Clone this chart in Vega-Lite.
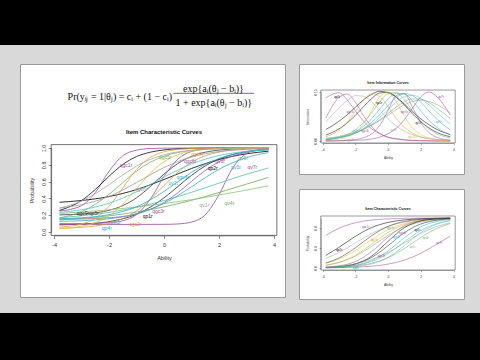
{
"$schema": "https://vega.github.io/schema/vega-lite/v6.json",
"padding": 0,
"background": "#d9d9d9",
"spacing": 0,
"config": {
  "font": "Liberation Sans",
  "view": {"stroke": null},
  "axis": {"grid": false, "domainColor": "#444", "domainWidth": 0.6, "tickColor": "#444", "tickWidth": 0.6, "labelColor": "#333", "titleColor": "#333", "titleFontWeight": "normal", "labelFont": "Liberation Sans", "titleFont": "Liberation Sans", "labelFlush": false, "labelOverlap": false, "labelBound": false}
},
"datasets": {
"icc": [
{"item":"qgc1r","x":-3.8,"p":0.249},{"item":"qgc1r","x":-3,"p":0.313},{"item":"qgc1r","x":-2.5,"p":0.469},{"item":"qgc1r","x":-2,"p":0.723},{"item":"qgc1r","x":-1.5,"p":0.907},{"item":"qgc1r","x":-1,"p":0.974},{"item":"qgc1r","x":-0.5,"p":0.994},{"item":"qgc1r","x":0,"p":0.998},{"item":"qgc1r","x":1,"p":1},{"item":"qgc1r","x":2,"p":1},{"item":"qgc1r","x":3,"p":1},{"item":"qgc1r","x":3.8,"p":1},
{"item":"qp1r","x":-3.8,"p":0.257},{"item":"qp1r","x":-3,"p":0.374},{"item":"qp1r","x":-2.5,"p":0.506},{"item":"qp1r","x":-2,"p":0.663},{"item":"qp1r","x":-1.5,"p":0.803},{"item":"qp1r","x":-1,"p":0.898},{"item":"qp1r","x":-0.5,"p":0.95},{"item":"qp1r","x":0,"p":0.977},{"item":"qp1r","x":0.5,"p":0.99},{"item":"qp1r","x":1,"p":0.995},{"item":"qp1r","x":2,"p":0.999},{"item":"qp1r","x":3,"p":1},{"item":"qp1r","x":3.8,"p":1},
{"item":"qp2r","x":-3.8,"p":0.354},{"item":"qp2r","x":-3,"p":0.375},{"item":"qp2r","x":-2,"p":0.422},{"item":"qp2r","x":-1,"p":0.505},{"item":"qp2r","x":0,"p":0.625},{"item":"qp2r","x":1,"p":0.756},{"item":"qp2r","x":2,"p":0.863},{"item":"qp2r","x":3,"p":0.931},{"item":"qp2r","x":3.8,"p":0.962},
{"item":"qgc9r","x":-3.8,"p":0.085},{"item":"qgc9r","x":-3,"p":0.094},{"item":"qgc9r","x":-2,"p":0.123},{"item":"qgc9r","x":-1,"p":0.211},{"item":"qgc9r","x":0,"p":0.406},{"item":"qgc9r","x":0.5,"p":0.54},{"item":"qgc9r","x":1,"p":0.674},{"item":"qgc9r","x":1.5,"p":0.787},{"item":"qgc9r","x":2,"p":0.869},{"item":"qgc9r","x":3,"p":0.957},{"item":"qgc9r","x":3.8,"p":0.983},
{"item":"qp5r","x":-3.8,"p":0.204},{"item":"qp5r","x":-3,"p":0.214},{"item":"qp5r","x":-2,"p":0.258},{"item":"qp5r","x":-1.5,"p":0.314},{"item":"qp5r","x":-1,"p":0.407},{"item":"qp5r","x":-0.5,"p":0.541},{"item":"qp5r","x":0,"p":0.689},{"item":"qp5r","x":0.5,"p":0.815},{"item":"qp5r","x":1,"p":0.9},{"item":"qp5r","x":2,"p":0.975},{"item":"qp5r","x":3,"p":0.994},{"item":"qp5r","x":3.8,"p":0.998},
{"item":"qgc6r","x":-3.8,"p":0.1},{"item":"qgc6r","x":-3,"p":0.1},{"item":"qgc6r","x":-2,"p":0.11},{"item":"qgc6r","x":-1.5,"p":0.134},{"item":"qgc6r","x":-1,"p":0.207},{"item":"qgc6r","x":-0.5,"p":0.389},{"item":"qgc6r","x":0,"p":0.66},{"item":"qgc6r","x":0.5,"p":0.867},{"item":"qgc6r","x":1,"p":0.958},{"item":"qgc6r","x":1.5,"p":0.987},{"item":"qgc6r","x":2,"p":0.997},{"item":"qgc6r","x":3,"p":1},{"item":"qgc6r","x":3.8,"p":1},
{"item":"qv7r","x":-3.8,"p":0.09},{"item":"qv7r","x":-2,"p":0.09},{"item":"qv7r","x":0,"p":0.091},{"item":"qv7r","x":0.5,"p":0.096},{"item":"qv7r","x":1,"p":0.118},{"item":"qv7r","x":1.5,"p":0.204},{"item":"qv7r","x":2,"p":0.444},{"item":"qv7r","x":2.5,"p":0.764},{"item":"qv7r","x":3,"p":0.934},{"item":"qv7r","x":3.5,"p":0.984},{"item":"qv7r","x":3.8,"p":0.994},
{"item":"qv3r","x":-3.8,"p":0.152},{"item":"qv3r","x":-3,"p":0.155},{"item":"qv3r","x":-2,"p":0.169},{"item":"qv3r","x":-1,"p":0.216},{"item":"qv3r","x":0,"p":0.351},{"item":"qv3r","x":0.5,"p":0.467},{"item":"qv3r","x":1,"p":0.602},{"item":"qv3r","x":1.5,"p":0.733},{"item":"qv3r","x":2,"p":0.836},{"item":"qv3r","x":3,"p":0.948},{"item":"qv3r","x":3.8,"p":0.981},
{"item":"qgc5r","x":-3.8,"p":0.168},{"item":"qgc5r","x":-3,"p":0.242},{"item":"qgc5r","x":-2.5,"p":0.329},{"item":"qgc5r","x":-2,"p":0.448},{"item":"qgc5r","x":-1.5,"p":0.588},{"item":"qgc5r","x":-1,"p":0.724},{"item":"qgc5r","x":-0.5,"p":0.83},{"item":"qgc5r","x":0,"p":0.902},{"item":"qgc5r","x":1,"p":0.971},{"item":"qgc5r","x":2,"p":0.992},{"item":"qgc5r","x":3,"p":0.998},{"item":"qgc5r","x":3.8,"p":0.999},
{"item":"qv4r","x":-3.8,"p":0.144},{"item":"qv4r","x":-3,"p":0.162},{"item":"qv4r","x":-2,"p":0.193},{"item":"qv4r","x":-1,"p":0.238},{"item":"qv4r","x":0,"p":0.299},{"item":"qv4r","x":1,"p":0.377},{"item":"qv4r","x":2,"p":0.47},{"item":"qv4r","x":3,"p":0.57},{"item":"qv4r","x":3.8,"p":0.65},
{"item":"qv8r","x":-3.8,"p":0.221},{"item":"qv8r","x":-3,"p":0.238},{"item":"qv8r","x":-2,"p":0.264},{"item":"qv8r","x":-1,"p":0.298},{"item":"qv8r","x":0,"p":0.338},{"item":"qv8r","x":1,"p":0.385},{"item":"qv8r","x":2,"p":0.44},{"item":"qv8r","x":3,"p":0.499},{"item":"qv8r","x":3.8,"p":0.55},
{"item":"qv6r","x":-3.8,"p":0.17},{"item":"qv6r","x":-3,"p":0.193},{"item":"qv6r","x":-2,"p":0.234},{"item":"qv6r","x":-1,"p":0.294},{"item":"qv6r","x":0,"p":0.374},{"item":"qv6r","x":1,"p":0.473},{"item":"qv6r","x":2,"p":0.582},{"item":"qv6r","x":3,"p":0.688},{"item":"qv6r","x":3.8,"p":0.763},
{"item":"qgc7r","x":-3.8,"p":0.059},{"item":"qgc7r","x":-3,"p":0.095},{"item":"qgc7r","x":-2.5,"p":0.163},{"item":"qgc7r","x":-2,"p":0.306},{"item":"qgc7r","x":-1.5,"p":0.525},{"item":"qgc7r","x":-1,"p":0.744},{"item":"qgc7r","x":-0.5,"p":0.887},{"item":"qgc7r","x":0,"p":0.955},{"item":"qgc7r","x":0.5,"p":0.983},{"item":"qgc7r","x":1,"p":0.993},{"item":"qgc7r","x":2,"p":0.999},{"item":"qgc7r","x":3,"p":1},{"item":"qgc7r","x":3.8,"p":1},
{"item":"qgc2r","x":-3.8,"p":0.045},{"item":"qgc2r","x":-3,"p":0.056},{"item":"qgc2r","x":-2,"p":0.103},{"item":"qgc2r","x":-1.5,"p":0.159},{"item":"qgc2r","x":-1,"p":0.252},{"item":"qgc2r","x":-0.5,"p":0.389},{"item":"qgc2r","x":0,"p":0.554},{"item":"qgc2r","x":0.5,"p":0.71},{"item":"qgc2r","x":1,"p":0.83},{"item":"qgc2r","x":1.5,"p":0.908},{"item":"qgc2r","x":2,"p":0.952},{"item":"qgc2r","x":3,"p":0.988},{"item":"qgc2r","x":3.8,"p":0.996},
{"item":"qgc4r","x":-3.8,"p":0.158},{"item":"qgc4r","x":-3,"p":0.17},{"item":"qgc4r","x":-2,"p":0.207},{"item":"qgc4r","x":-1,"p":0.3},{"item":"qgc4r","x":0,"p":0.483},{"item":"qgc4r","x":0.5,"p":0.598},{"item":"qgc4r","x":1,"p":0.71},{"item":"qgc4r","x":1.5,"p":0.805},{"item":"qgc4r","x":2,"p":0.875},{"item":"qgc4r","x":3,"p":0.954},{"item":"qgc4r","x":3.8,"p":0.98},
{"item":"qv5r","x":-3.8,"p":0.127},{"item":"qv5r","x":-3,"p":0.134},{"item":"qv5r","x":-2,"p":0.158},{"item":"qv5r","x":-1,"p":0.216},{"item":"qv5r","x":0,"p":0.34},{"item":"qv5r","x":1,"p":0.538},{"item":"qv5r","x":1.5,"p":0.647},{"item":"qv5r","x":2,"p":0.746},{"item":"qv5r","x":3,"p":0.886},{"item":"qv5r","x":3.8,"p":0.945},
{"item":"qv2r","x":-3.8,"p":0.233},{"item":"qv2r","x":-3,"p":0.265},{"item":"qv2r","x":-2,"p":0.342},{"item":"qv2r","x":-1,"p":0.478},{"item":"qv2r","x":0,"p":0.654},{"item":"qv2r","x":1,"p":0.81},{"item":"qv2r","x":2,"p":0.91},{"item":"qv2r","x":3,"p":0.961},{"item":"qv2r","x":3.8,"p":0.981},
{"item":"qgc10r","x":-3.8,"p":0.041},{"item":"qgc10r","x":-3,"p":0.068},{"item":"qgc10r","x":-2.5,"p":0.111},{"item":"qgc10r","x":-2,"p":0.193},{"item":"qgc10r","x":-1.5,"p":0.331},{"item":"qgc10r","x":-1,"p":0.515},{"item":"qgc10r","x":-0.5,"p":0.699},{"item":"qgc10r","x":0,"p":0.837},{"item":"qgc10r","x":0.5,"p":0.919},{"item":"qgc10r","x":1,"p":0.962},{"item":"qgc10r","x":2,"p":0.992},{"item":"qgc10r","x":3,"p":0.999},{"item":"qgc10r","x":3.8,"p":1},
{"item":"qgc8r","x":-3.8,"p":0.285},{"item":"qgc8r","x":-3,"p":0.369},{"item":"qgc8r","x":-2.5,"p":0.456},{"item":"qgc8r","x":-2,"p":0.563},{"item":"qgc8r","x":-1.5,"p":0.679},{"item":"qgc8r","x":-1,"p":0.784},{"item":"qgc8r","x":-0.5,"p":0.864},{"item":"qgc8r","x":0,"p":0.92},{"item":"qgc8r","x":1,"p":0.973},{"item":"qgc8r","x":2,"p":0.992},{"item":"qgc8r","x":3,"p":0.998},{"item":"qgc8r","x":3.8,"p":0.999},
{"item":"qv1r","x":-3.8,"p":0.285},{"item":"qv1r","x":-3,"p":0.325},{"item":"qv1r","x":-2,"p":0.423},{"item":"qv1r","x":-1,"p":0.588},{"item":"qv1r","x":0,"p":0.768},{"item":"qv1r","x":1,"p":0.894},{"item":"qv1r","x":2,"p":0.957},{"item":"qv1r","x":3,"p":0.984},{"item":"qv1r","x":3.8,"p":0.993}
],
"iccLab": [
{"item":"qgc1r","x":-1.38,"p":0.8},{"item":"qgc5r","x":0.04,"p":0.89},{"item":"qgc7r","x":1.22,"p":0.93},{"item":"qgc6r","x":0.95,"p":0.84},{"item":"qv3r","x":2.04,"p":0.84},{"item":"qv6r","x":2.88,"p":0.88},{"item":"qp2r","x":1.77,"p":0.76},{"item":"qv5r","x":2.62,"p":0.77},{"item":"qv7r","x":3.21,"p":0.77},{"item":"qgc4r","x":0.68,"p":0.65},{"item":"qv2r","x":0.34,"p":0.58},{"item":"qgc8r","x":-0.84,"p":0.51},{"item":"qv1r","x":1.47,"p":0.32},{"item":"qv4r","x":2.38,"p":0.35},{"item":"qgc9r","x":-2.95,"p":0.23},{"item":"qp5r","x":-2.55,"p":0.225},{"item":"qv8r","x":-2.29,"p":0.17},{"item":"qp3r","x":-1.76,"p":0.12},{"item":"qp4r","x":-2.08,"p":0.05},{"item":"qgc2r","x":-1.05,"p":0.1},{"item":"qp1r","x":-0.59,"p":0.19},{"item":"qgc3r","x":-0.2,"p":0.25}
],
"info": [
{"item":"qgc1r","x":-3.8,"p":0.132},{"item":"qgc1r","x":-3,"p":0.148},{"item":"qgc1r","x":-2.5,"p":0.126},{"item":"qgc1r","x":-2,"p":0.093},{"item":"qgc1r","x":-1.5,"p":0.061},{"item":"qgc1r","x":-1,"p":0.037},{"item":"qgc1r","x":-0.5,"p":0.022},{"item":"qgc1r","x":0,"p":0.012},{"item":"qgc1r","x":0.5,"p":0.007},{"item":"qgc1r","x":1,"p":0.004},{"item":"qgc1r","x":1.5,"p":0.002},{"item":"qgc1r","x":2,"p":0.001},{"item":"qgc1r","x":2.5,"p":0.001},{"item":"qgc1r","x":3,"p":0},{"item":"qgc1r","x":3.8,"p":0},
{"item":"qgc3r","x":-3.8,"p":0.07},{"item":"qgc3r","x":-3,"p":0.133},{"item":"qgc3r","x":-2.5,"p":0.144},{"item":"qgc3r","x":-2,"p":0.119},{"item":"qgc3r","x":-1.5,"p":0.078},{"item":"qgc3r","x":-1,"p":0.044},{"item":"qgc3r","x":-0.5,"p":0.023},{"item":"qgc3r","x":0,"p":0.011},{"item":"qgc3r","x":0.5,"p":0.006},{"item":"qgc3r","x":1,"p":0.003},{"item":"qgc3r","x":1.5,"p":0.001},{"item":"qgc3r","x":2,"p":0.001},{"item":"qgc3r","x":2.5,"p":0},{"item":"qgc3r","x":3,"p":0},{"item":"qgc3r","x":3.8,"p":0},
{"item":"qgc8r","x":-3.8,"p":0.059},{"item":"qgc8r","x":-3,"p":0.1},{"item":"qgc8r","x":-2.5,"p":0.124},{"item":"qgc8r","x":-2,"p":0.139},{"item":"qgc8r","x":-1.5,"p":0.137},{"item":"qgc8r","x":-1,"p":0.12},{"item":"qgc8r","x":-0.5,"p":0.094},{"item":"qgc8r","x":0,"p":0.068},{"item":"qgc8r","x":0.5,"p":0.046},{"item":"qgc8r","x":1,"p":0.03},{"item":"qgc8r","x":1.5,"p":0.019},{"item":"qgc8r","x":2,"p":0.012},{"item":"qgc8r","x":2.5,"p":0.007},{"item":"qgc8r","x":3,"p":0.005},{"item":"qgc8r","x":3.8,"p":0.002},
{"item":"qp2r","x":-3.8,"p":0.035},{"item":"qp2r","x":-3,"p":0.06},{"item":"qp2r","x":-2.5,"p":0.08},{"item":"qp2r","x":-2,"p":0.103},{"item":"qp2r","x":-1.5,"p":0.126},{"item":"qp2r","x":-1,"p":0.143},{"item":"qp2r","x":-0.5,"p":0.152},{"item":"qp2r","x":0,"p":0.148},{"item":"qp2r","x":0.5,"p":0.134},{"item":"qp2r","x":1,"p":0.113},{"item":"qp2r","x":1.5,"p":0.089},{"item":"qp2r","x":2,"p":0.068},{"item":"qp2r","x":2.5,"p":0.05},{"item":"qp2r","x":3,"p":0.035},{"item":"qp2r","x":3.8,"p":0.02},
{"item":"qp1r","x":-3.8,"p":0.018},{"item":"qp1r","x":-3,"p":0.037},{"item":"qp1r","x":-2.5,"p":0.055},{"item":"qp1r","x":-2,"p":0.078},{"item":"qp1r","x":-1.5,"p":0.105},{"item":"qp1r","x":-1,"p":0.13},{"item":"qp1r","x":-0.5,"p":0.147},{"item":"qp1r","x":0,"p":0.149},{"item":"qp1r","x":0.5,"p":0.135},{"item":"qp1r","x":1,"p":0.11},{"item":"qp1r","x":1.5,"p":0.083},{"item":"qp1r","x":2,"p":0.059},{"item":"qp1r","x":2.5,"p":0.04},{"item":"qp1r","x":3,"p":0.026},{"item":"qp1r","x":3.8,"p":0.013},
{"item":"qgc2r","x":-3.8,"p":0.013},{"item":"qgc2r","x":-3,"p":0.033},{"item":"qgc2r","x":-2.5,"p":0.057},{"item":"qgc2r","x":-2,"p":0.09},{"item":"qgc2r","x":-1.5,"p":0.125},{"item":"qgc2r","x":-1,"p":0.144},{"item":"qgc2r","x":-0.5,"p":0.136},{"item":"qgc2r","x":0,"p":0.105},{"item":"qgc2r","x":0.5,"p":0.069},{"item":"qgc2r","x":1,"p":0.042},{"item":"qgc2r","x":1.5,"p":0.024},{"item":"qgc2r","x":2,"p":0.013},{"item":"qgc2r","x":2.5,"p":0.007},{"item":"qgc2r","x":3,"p":0.004},{"item":"qgc2r","x":3.8,"p":0.001},
{"item":"qgc10r","x":-3.8,"p":0.002},{"item":"qgc10r","x":-3,"p":0.006},{"item":"qgc10r","x":-2.5,"p":0.012},{"item":"qgc10r","x":-2,"p":0.026},{"item":"qgc10r","x":-1.5,"p":0.052},{"item":"qgc10r","x":-1,"p":0.093},{"item":"qgc10r","x":-0.5,"p":0.136},{"item":"qgc10r","x":0,"p":0.149},{"item":"qgc10r","x":0.5,"p":0.12},{"item":"qgc10r","x":1,"p":0.075},{"item":"qgc10r","x":1.5,"p":0.04},{"item":"qgc10r","x":2,"p":0.02},{"item":"qgc10r","x":2.5,"p":0.009},{"item":"qgc10r","x":3,"p":0.004},{"item":"qgc10r","x":3.8,"p":0.001},
{"item":"qgc5r","x":-3.8,"p":0.004},{"item":"qgc5r","x":-3,"p":0.011},{"item":"qgc5r","x":-2.5,"p":0.02},{"item":"qgc5r","x":-2,"p":0.034},{"item":"qgc5r","x":-1.5,"p":0.056},{"item":"qgc5r","x":-1,"p":0.086},{"item":"qgc5r","x":-0.5,"p":0.12},{"item":"qgc5r","x":0,"p":0.145},{"item":"qgc5r","x":0.5,"p":0.148},{"item":"qgc5r","x":1,"p":0.126},{"item":"qgc5r","x":1.5,"p":0.093},{"item":"qgc5r","x":2,"p":0.061},{"item":"qgc5r","x":2.5,"p":0.037},{"item":"qgc5r","x":3,"p":0.022},{"item":"qgc5r","x":3.8,"p":0.009},
{"item":"qgc4r","x":-3.8,"p":0.004},{"item":"qgc4r","x":-3,"p":0.01},{"item":"qgc4r","x":-2.5,"p":0.016},{"item":"qgc4r","x":-2,"p":0.028},{"item":"qgc4r","x":-1.5,"p":0.044},{"item":"qgc4r","x":-1,"p":0.068},{"item":"qgc4r","x":-0.5,"p":0.098},{"item":"qgc4r","x":0,"p":0.128},{"item":"qgc4r","x":0.5,"p":0.146},{"item":"qgc4r","x":1,"p":0.144},{"item":"qgc4r","x":1.5,"p":0.123},{"item":"qgc4r","x":2,"p":0.092},{"item":"qgc4r","x":2.5,"p":0.063},{"item":"qgc4r","x":3,"p":0.041},{"item":"qgc4r","x":3.8,"p":0.018},
{"item":"qv5r","x":-3.8,"p":0.004},{"item":"qv5r","x":-3,"p":0.01},{"item":"qv5r","x":-2.5,"p":0.015},{"item":"qv5r","x":-2,"p":0.024},{"item":"qv5r","x":-1.5,"p":0.037},{"item":"qv5r","x":-1,"p":0.057},{"item":"qv5r","x":-0.5,"p":0.081},{"item":"qv5r","x":0,"p":0.109},{"item":"qv5r","x":0.5,"p":0.133},{"item":"qv5r","x":1,"p":0.145},{"item":"qv5r","x":1.5,"p":0.139},{"item":"qv5r","x":2,"p":0.119},{"item":"qv5r","x":2.5,"p":0.092},{"item":"qv5r","x":3,"p":0.066},{"item":"qv5r","x":3.8,"p":0.034},
{"item":"qv2r","x":-3.8,"p":0.005},{"item":"qv2r","x":-3,"p":0.01},{"item":"qv2r","x":-2.5,"p":0.016},{"item":"qv2r","x":-2,"p":0.024},{"item":"qv2r","x":-1.5,"p":0.036},{"item":"qv2r","x":-1,"p":0.052},{"item":"qv2r","x":-0.5,"p":0.072},{"item":"qv2r","x":0,"p":0.096},{"item":"qv2r","x":0.5,"p":0.119},{"item":"qv2r","x":1,"p":0.136},{"item":"qv2r","x":1.5,"p":0.14},{"item":"qv2r","x":2,"p":0.13},{"item":"qv2r","x":2.5,"p":0.111},{"item":"qv2r","x":3,"p":0.087},{"item":"qv2r","x":3.8,"p":0.052},
{"item":"qv4r","x":-3.8,"p":0.006},{"item":"qv4r","x":-3,"p":0.012},{"item":"qv4r","x":-2.5,"p":0.017},{"item":"qv4r","x":-2,"p":0.024},{"item":"qv4r","x":-1.5,"p":0.035},{"item":"qv4r","x":-1,"p":0.048},{"item":"qv4r","x":-0.5,"p":0.065},{"item":"qv4r","x":0,"p":0.084},{"item":"qv4r","x":0.5,"p":0.104},{"item":"qv4r","x":1,"p":0.12},{"item":"qv4r","x":1.5,"p":0.129},{"item":"qv4r","x":2,"p":0.128},{"item":"qv4r","x":2.5,"p":0.118},{"item":"qv4r","x":3,"p":0.1},{"item":"qv4r","x":3.8,"p":0.069},
{"item":"qv7r","x":-3.8,"p":0},{"item":"qv7r","x":-3,"p":0.0005},{"item":"qv7r","x":-2.5,"p":0.001},{"item":"qv7r","x":-2,"p":0.002},{"item":"qv7r","x":-1.5,"p":0.003},{"item":"qv7r","x":-1,"p":0.006},{"item":"qv7r","x":-0.5,"p":0.012},{"item":"qv7r","x":0,"p":0.022},{"item":"qv7r","x":0.5,"p":0.039},{"item":"qv7r","x":1,"p":0.065},{"item":"qv7r","x":1.5,"p":0.101},{"item":"qv7r","x":2,"p":0.135},{"item":"qv7r","x":2.5,"p":0.15},{"item":"qv7r","x":3,"p":0.135},{"item":"qv7r","x":3.8,"p":0.079},
{"item":"qgc6r","x":-3.8,"p":0},{"item":"qgc6r","x":-3,"p":0.001},{"item":"qgc6r","x":-2.5,"p":0.002},{"item":"qgc6r","x":-2,"p":0.004},{"item":"qgc6r","x":-1.5,"p":0.01},{"item":"qgc6r","x":-1,"p":0.022},{"item":"qgc6r","x":-0.5,"p":0.048},{"item":"qgc6r","x":0,"p":0.093},{"item":"qgc6r","x":0.5,"p":0.139},{"item":"qgc6r","x":1,"p":0.145},{"item":"qgc6r","x":1.5,"p":0.103},{"item":"qgc6r","x":2,"p":0.056},{"item":"qgc6r","x":2.5,"p":0.026},{"item":"qgc6r","x":3,"p":0.011},{"item":"qgc6r","x":3.8,"p":0.003},
{"item":"qv1r","x":-3.8,"p":0.009},{"item":"qv1r","x":-3,"p":0.014},{"item":"qv1r","x":-2.5,"p":0.02},{"item":"qv1r","x":-2,"p":0.027},{"item":"qv1r","x":-1.5,"p":0.037},{"item":"qv1r","x":-1,"p":0.049},{"item":"qv1r","x":-0.5,"p":0.063},{"item":"qv1r","x":0,"p":0.079},{"item":"qv1r","x":0.5,"p":0.096},{"item":"qv1r","x":1,"p":0.111},{"item":"qv1r","x":1.5,"p":0.121},{"item":"qv1r","x":2,"p":0.125},{"item":"qv1r","x":2.5,"p":0.121},{"item":"qv1r","x":3,"p":0.111},{"item":"qv1r","x":3.8,"p":0.086}
],
"infoLab": [
{"item":"qp2r","x":-3.1,"p":0.137},{"item":"qp1r","x":-0.55,"p":0.117},{"item":"qv7r","x":3.25,"p":0.135},{"item":"qgc1r","x":-2.3,"p":0.09},{"item":"qgc6r","x":1.0,"p":0.09},{"item":"qp5r","x":1.84,"p":0.057},{"item":"qv2r","x":-2.0,"p":0.031},{"item":"qgc3r","x":-1.4,"p":0.03},{"item":"qgc8r","x":-2.3,"p":0.004},{"item":"qv5r","x":3.1,"p":0.06},{"item":"qv1r","x":0.35,"p":0.035},{"item":"qgc10r","x":1.5,"p":0.012}
],
"icc2": [
{"item":"qgc1r","x":-3.8,"p":0.652},{"item":"qgc1r","x":-3,"p":0.794},{"item":"qgc1r","x":-2,"p":0.905},{"item":"qgc1r","x":-1,"p":0.959},{"item":"qgc1r","x":0,"p":0.983},{"item":"qgc1r","x":1,"p":0.993},{"item":"qgc1r","x":2,"p":0.997},{"item":"qgc1r","x":3,"p":0.999},{"item":"qgc1r","x":3.8,"p":1},
{"item":"qp2r","x":-3.8,"p":0.254},{"item":"qp2r","x":-3,"p":0.411},{"item":"qp2r","x":-2,"p":0.632},{"item":"qp2r","x":-1,"p":0.808},{"item":"qp2r","x":0,"p":0.912},{"item":"qp2r","x":1,"p":0.962},{"item":"qp2r","x":2,"p":0.984},{"item":"qp2r","x":3,"p":0.994},{"item":"qp2r","x":3.8,"p":0.997},
{"item":"qgc8r","x":-3.8,"p":0.192},{"item":"qgc8r","x":-3,"p":0.31},{"item":"qgc8r","x":-2,"p":0.5},{"item":"qgc8r","x":-1,"p":0.69},{"item":"qgc8r","x":0,"p":0.832},{"item":"qgc8r","x":1,"p":0.917},{"item":"qgc8r","x":2,"p":0.961},{"item":"qgc8r","x":3,"p":0.982},{"item":"qgc8r","x":3.8,"p":0.99},
{"item":"qgc10r","x":-3.8,"p":0.095},{"item":"qgc10r","x":-3,"p":0.178},{"item":"qgc10r","x":-2,"p":0.348},{"item":"qgc10r","x":-1,"p":0.567},{"item":"qgc10r","x":0,"p":0.763},{"item":"qgc10r","x":1,"p":0.888},{"item":"qgc10r","x":2,"p":0.951},{"item":"qgc10r","x":3,"p":0.98},{"item":"qgc10r","x":3.8,"p":0.99},
{"item":"qgc5r","x":-3.8,"p":0.058},{"item":"qgc5r","x":-3,"p":0.112},{"item":"qgc5r","x":-2,"p":0.237},{"item":"qgc5r","x":-1,"p":0.433},{"item":"qgc5r","x":0,"p":0.652},{"item":"qgc5r","x":1,"p":0.822},{"item":"qgc5r","x":2,"p":0.919},{"item":"qgc5r","x":3,"p":0.965},{"item":"qgc5r","x":3.8,"p":0.983},
{"item":"qgc7r","x":-3.8,"p":0.052},{"item":"qgc7r","x":-3,"p":0.109},{"item":"qgc7r","x":-2,"p":0.25},{"item":"qgc7r","x":-1,"p":0.475},{"item":"qgc7r","x":0,"p":0.711},{"item":"qgc7r","x":1,"p":0.87},{"item":"qgc7r","x":2,"p":0.948},{"item":"qgc7r","x":3,"p":0.98},{"item":"qgc7r","x":3.8,"p":0.991},
{"item":"qgc6r","x":-3.8,"p":0.017},{"item":"qgc6r","x":-3,"p":0.042},{"item":"qgc6r","x":-2,"p":0.128},{"item":"qgc6r","x":-1,"p":0.327},{"item":"qgc6r","x":0,"p":0.618},{"item":"qgc6r","x":1,"p":0.843},{"item":"qgc6r","x":2,"p":0.947},{"item":"qgc6r","x":3,"p":0.983},{"item":"qgc6r","x":3.8,"p":0.994},
{"item":"qp1r","x":-3.8,"p":0.008},{"item":"qp1r","x":-3,"p":0.023},{"item":"qp1r","x":-2,"p":0.078},{"item":"qp1r","x":-1,"p":0.237},{"item":"qp1r","x":0,"p":0.532},{"item":"qp1r","x":1,"p":0.807},{"item":"qp1r","x":2,"p":0.939},{"item":"qp1r","x":3,"p":0.983},{"item":"qp1r","x":3.8,"p":0.994},
{"item":"qgc9r","x":-3.8,"p":0.012},{"item":"qgc9r","x":-3,"p":0.029},{"item":"qgc9r","x":-2,"p":0.082},{"item":"qgc9r","x":-1,"p":0.211},{"item":"qgc9r","x":0,"p":0.445},{"item":"qgc9r","x":1,"p":0.707},{"item":"qgc9r","x":2,"p":0.879},{"item":"qgc9r","x":3,"p":0.956},{"item":"qgc9r","x":3.8,"p":0.981},
{"item":"qgc4r","x":-3.8,"p":0.008},{"item":"qgc4r","x":-3,"p":0.019},{"item":"qgc4r","x":-2,"p":0.054},{"item":"qgc4r","x":-1,"p":0.147},{"item":"qgc4r","x":0,"p":0.341},{"item":"qgc4r","x":1,"p":0.608},{"item":"qgc4r","x":2,"p":0.823},{"item":"qgc4r","x":3,"p":0.933},{"item":"qgc4r","x":3.8,"p":0.971},
{"item":"qv6r","x":-3.8,"p":0.009},{"item":"qv6r","x":-3,"p":0.02},{"item":"qv6r","x":-2,"p":0.052},{"item":"qv6r","x":-1,"p":0.13},{"item":"qv6r","x":0,"p":0.289},{"item":"qv6r","x":1,"p":0.525},{"item":"qv6r","x":2,"p":0.75},{"item":"qv6r","x":3,"p":0.891},{"item":"qv6r","x":3.8,"p":0.948},
{"item":"qv2r","x":-3.8,"p":0.004},{"item":"qv2r","x":-3,"p":0.01},{"item":"qv2r","x":-2,"p":0.029},{"item":"qv2r","x":-1,"p":0.082},{"item":"qv2r","x":0,"p":0.211},{"item":"qv2r","x":1,"p":0.445},{"item":"qv2r","x":2,"p":0.707},{"item":"qv2r","x":3,"p":0.879},{"item":"qv2r","x":3.8,"p":0.946},
{"item":"qv4r","x":-3.8,"p":0.008},{"item":"qv4r","x":-3,"p":0.017},{"item":"qv4r","x":-2,"p":0.041},{"item":"qv4r","x":-1,"p":0.095},{"item":"qv4r","x":0,"p":0.206},{"item":"qv4r","x":1,"p":0.389},{"item":"qv4r","x":2,"p":0.611},{"item":"qv4r","x":3,"p":0.794},{"item":"qv4r","x":3.8,"p":0.888},
{"item":"qv1r","x":-3.8,"p":0.021},{"item":"qv1r","x":-3,"p":0.039},{"item":"qv1r","x":-2,"p":0.083},{"item":"qv1r","x":-1,"p":0.168},{"item":"qv1r","x":0,"p":0.31},{"item":"qv1r","x":1,"p":0.5},{"item":"qv1r","x":2,"p":0.69},{"item":"qv1r","x":3,"p":0.832},{"item":"qv1r","x":3.8,"p":0.904},
{"item":"qv7r","x":-3.8,"p":0.004},{"item":"qv7r","x":-3,"p":0.008},{"item":"qv7r","x":-2,"p":0.017},{"item":"qv7r","x":-1,"p":0.036},{"item":"qv7r","x":0,"p":0.077},{"item":"qv7r","x":1,"p":0.157},{"item":"qv7r","x":2,"p":0.293},{"item":"qv7r","x":3,"p":0.48},{"item":"qv7r","x":3.8,"p":0.636},
{"item":"qp5r","x":-3.8,"p":0.1},{"item":"qp5r","x":-3,"p":0.198},{"item":"qp5r","x":-2,"p":0.401},{"item":"qp5r","x":-1,"p":0.646},{"item":"qp5r","x":0,"p":0.832},{"item":"qp5r","x":1,"p":0.931},{"item":"qp5r","x":2,"p":0.973},{"item":"qp5r","x":3,"p":0.99},{"item":"qp5r","x":3.8,"p":0.995}
],
"icc2Lab": [
{"item":"qgc1r","x":-1.36,"p":0.83},{"item":"qgc5r","x":0.17,"p":0.8},{"item":"qp2r","x":-2.98,"p":0.37},{"item":"qgc7r","x":-0.84,"p":0.57},{"item":"qgc6r","x":0.89,"p":0.7},{"item":"qp1r","x":1.8,"p":0.77},{"item":"qgc3r","x":-0.4,"p":0.25},{"item":"qp4r","x":-1.97,"p":0.0},{"item":"qv4r","x":2.3,"p":0.6},{"item":"qv1r","x":1.5,"p":0.43},{"item":"qv7r","x":3.13,"p":0.5},{"item":"qgc4r","x":0.5,"p":0.62}
]
},
"vconcat": [
{"width": 480, "height": 45, "view": {"fill": "#000000"}, "data": {"values": []}, "mark": "point"},
{"spacing": 0, "hconcat": [
  {"width": 19, "height": 268, "data": {"values": []}, "mark": "point"},
  {"spacing": 0, "vconcat": [
    {"width": 1, "height": 18, "data": {"values": []}, "mark": "point"},
    {"width": 265, "height": 233, "view": {"fill": "#ffffff", "stroke": "#9a9a9a", "strokeWidth": 1},
     "layer": [
      {"data": {"values": [{}]}, "mark": {"type": "rect", "fillOpacity": 0, "stroke": "#333", "strokeWidth": 0.7},
       "encoding": {"x": {"datum": -4.104, "type": "quantitative", "scale": {"domain": [-4, 4], "range": [34, 254], "nice": false, "zero": false}}, "x2": {"datum": 4.104},
                    "y": {"datum": -0.04, "type": "quantitative", "scale": {"domain": [0, 1], "range": [168, 84], "nice": false, "zero": false}}, "y2": {"datum": 1.04}}},
      {"data": {"name": "icc"}, "mark": {"type": "line", "interpolate": "monotone", "strokeWidth": 0.9, "opacity": 0.9},
       "encoding": {
        "x": {"field": "x", "type": "quantitative", "scale": {"domain": [-4, 4], "range": [34, 254], "nice": false, "zero": false},
              "axis": {"orient": "bottom", "offset": -61.6, "values": [-4, -2, 0, 2, 4], "labelExpr": "'' + datum.value", "title": "Ability", "tickSize": 3, "labelPadding": 4, "labelFontSize": 5.5, "titleFontSize": 5.5, "titlePadding": 7.5}},
        "y": {"field": "p", "type": "quantitative", "scale": {"domain": [0, 1], "range": [168, 84], "nice": false, "zero": false},
              "axis": {"orient": "left", "offset": -31.1, "values": [0, 0.2, 0.4, 0.6, 0.8, 1], "format": ".1f", "title": "Probability", "tickSize": 3, "labelPadding": 2, "labelAngle": 270, "labelAlign": "center", "labelBaseline": "bottom", "labelFontSize": 5.5, "titleFontSize": 5.5, "titlePadding": 7}},
        "color": {"field": "item", "type": "nominal", "legend": null, "scale": {"domain": ["qgc1r","qgc2r","qgc3r","qgc4r","qgc5r","qgc6r","qgc7r","qgc8r","qgc9r","qgc10r","qp1r","qp2r","qp3r","qp4r","qp5r","qv1r","qv2r","qv3r","qv4r","qv5r","qv6r","qv7r","qv8r"], "range": ["#9c4f9f","#e89a35","#b3478f","#35aecb","#78b561","#a054a3","#eaa43a","#a9a9a9","#2b2b2b","#dcc23a","#111111","#000000","#3db5c9","#2fa6c6","#3a3a3a","#9d9d9d","#50c3d6","#a45aa8","#6fae58","#42aac4","#57c0ad","#9b4b9b","#8cc477"]}}}},
      {"data": {"name": "iccLab"}, "mark": {"type": "text", "fontSize": 5},
       "encoding": {
        "x": {"field": "x", "type": "quantitative", "scale": {"domain": [-4, 4], "range": [34, 254], "nice": false, "zero": false}},
        "y": {"field": "p", "type": "quantitative", "scale": {"domain": [0, 1], "range": [168, 84], "nice": false, "zero": false}},
        "text": {"field": "item"},
        "color": {"field": "item", "type": "nominal", "legend": null, "scale": {"domain": ["qgc1r","qgc2r","qgc3r","qgc4r","qgc5r","qgc6r","qgc7r","qgc8r","qgc9r","qgc10r","qp1r","qp2r","qp3r","qp4r","qp5r","qv1r","qv2r","qv3r","qv4r","qv5r","qv6r","qv7r","qv8r"], "range": ["#9c4f9f","#e89a35","#b3478f","#35aecb","#78b561","#a054a3","#eaa43a","#a9a9a9","#2b2b2b","#dcc23a","#111111","#000000","#3db5c9","#2fa6c6","#3a3a3a","#9d9d9d","#50c3d6","#a45aa8","#6fae58","#42aac4","#57c0ad","#9b4b9b","#8cc477"]}}}},
      {"data": {"values": [{}]}, "mark": {"type": "text", "fontSize": 6, "fontWeight": "bold", "color": "#111", "baseline": "middle"},
       "encoding": {"x": {"datum": 0, "type": "quantitative", "scale": {"domain": [-4, 4], "range": [34, 254], "nice": false, "zero": false}},
                    "y": {"datum": 1.19, "type": "quantitative", "scale": {"domain": [0, 1], "range": [168, 84], "nice": false, "zero": false}},
                    "text": {"value": "Item Characteristic Curves"}}},
      {"data": {"values": [{}]}, "mark": {"type": "text", "font": "Liberation Serif", "fontSize": 10, "color": "#111", "align": "right", "baseline": "middle"},
       "encoding": {"x": {"datum": 0.29, "type": "quantitative", "scale": {"domain": [-4, 4], "range": [34, 254], "nice": false, "zero": false}},
                    "y": {"datum": 1.607, "type": "quantitative", "scale": {"domain": [0, 1], "range": [168, 84], "nice": false, "zero": false}},
                    "text": {"value": "Pr(yᵢⱼ = 1|θⱼ) = cᵢ + (1 − cᵢ)"}}},
      {"data": {"values": [{}]}, "mark": {"type": "text", "font": "Liberation Serif", "fontSize": 10, "color": "#111", "align": "center", "baseline": "middle"},
       "encoding": {"x": {"datum": 1.8, "type": "quantitative", "scale": {"domain": [-4, 4], "range": [34, 254], "nice": false, "zero": false}},
                    "y": {"datum": 1.699, "type": "quantitative", "scale": {"domain": [0, 1], "range": [168, 84], "nice": false, "zero": false}},
                    "text": {"value": "exp{aᵢ(θⱼ − bᵢ)}"}}},
      {"data": {"values": [{}]}, "mark": {"type": "rule", "color": "#111", "strokeWidth": 0.6},
       "encoding": {"x": {"datum": 0.345, "type": "quantitative", "scale": {"domain": [-4, 4], "range": [34, 254], "nice": false, "zero": false}}, "x2": {"datum": 3.273},
                    "y": {"datum": 1.651, "type": "quantitative", "scale": {"domain": [0, 1], "range": [168, 84], "nice": false, "zero": false}}}},
      {"data": {"values": [{}]}, "mark": {"type": "text", "font": "Liberation Serif", "fontSize": 10, "color": "#111", "align": "center", "baseline": "middle"},
       "encoding": {"x": {"datum": 1.81, "type": "quantitative", "scale": {"domain": [-4, 4], "range": [34, 254], "nice": false, "zero": false}},
                    "y": {"datum": 1.539, "type": "quantitative", "scale": {"domain": [0, 1], "range": [168, 84], "nice": false, "zero": false}},
                    "text": {"value": "1 + exp{aᵢ(θⱼ − bᵢ)}"}}}
     ]}
  ]},
  {"width": 12, "height": 1, "data": {"values": []}, "mark": "point"},
  {"spacing": 0, "vconcat": [
    {"width": 1, "height": 18, "data": {"values": []}, "mark": "point"},
    {"width": 165, "height": 110, "view": {"fill": "#ffffff", "stroke": "#9a9a9a", "strokeWidth": 1},
     "layer": [
      {"data": {"values": [{}]}, "mark": {"type": "rect", "fillOpacity": 0, "stroke": "#333", "strokeWidth": 0.5},
       "encoding": {"x": {"datum": -4.104, "type": "quantitative", "scale": {"domain": [-4, 4], "range": [23.5, 154.5], "nice": false, "zero": false}}, "x2": {"datum": 4.104},
                    "y": {"datum": -0.006, "type": "quantitative", "scale": {"domain": [0, 0.15], "range": [77, 28], "nice": false, "zero": false}}, "y2": {"datum": 0.156}}},
      {"data": {"name": "info"}, "mark": {"type": "line", "interpolate": "monotone", "strokeWidth": 0.6, "opacity": 0.9},
       "encoding": {
        "x": {"field": "x", "type": "quantitative", "scale": {"domain": [-4, 4], "range": [23.5, 154.5], "nice": false, "zero": false},
              "axis": {"orient": "bottom", "offset": -31, "values": [-4, -2, 0, 2, 4], "labelExpr": "'' + datum.value", "title": "Ability", "tickSize": 1.8, "labelPadding": 2.5, "labelFontSize": 3.3, "titleFontSize": 3.3, "titlePadding": 4.5, "domainWidth": 0.4, "tickWidth": 0.4}},
        "y": {"field": "p", "type": "quantitative", "scale": {"domain": [0, 0.15], "range": [77, 28], "nice": false, "zero": false},
              "axis": {"orient": "left", "offset": -21.8, "values": [0, 0.05, 0.1, 0.15], "format": ".2f", "title": "Information", "tickSize": 1.8, "labelPadding": 1.3, "labelAngle": 270, "labelAlign": "center", "labelBaseline": "bottom", "labelFontSize": 3.3, "titleFontSize": 3.3, "titlePadding": 4, "domainWidth": 0.4, "tickWidth": 0.4}},
        "color": {"field": "item", "type": "nominal", "legend": null, "scale": {"domain": ["qgc1r","qgc2r","qgc3r","qgc4r","qgc5r","qgc6r","qgc7r","qgc8r","qgc9r","qgc10r","qp1r","qp2r","qp3r","qp4r","qp5r","qv1r","qv2r","qv3r","qv4r","qv5r","qv6r","qv7r","qv8r"], "range": ["#9c4f9f","#e89a35","#b3478f","#35aecb","#78b561","#a054a3","#eaa43a","#a9a9a9","#2b2b2b","#dcc23a","#111111","#000000","#3db5c9","#2fa6c6","#3a3a3a","#9d9d9d","#50c3d6","#a45aa8","#6fae58","#42aac4","#57c0ad","#9b4b9b","#8cc477"]}}}},
      {"data": {"name": "infoLab"}, "mark": {"type": "text", "fontSize": 3},
       "encoding": {
        "x": {"field": "x", "type": "quantitative", "scale": {"domain": [-4, 4], "range": [23.5, 154.5], "nice": false, "zero": false}},
        "y": {"field": "p", "type": "quantitative", "scale": {"domain": [0, 0.15], "range": [77, 28], "nice": false, "zero": false}},
        "text": {"field": "item"},
        "color": {"field": "item", "type": "nominal", "legend": null, "scale": {"domain": ["qgc1r","qgc2r","qgc3r","qgc4r","qgc5r","qgc6r","qgc7r","qgc8r","qgc9r","qgc10r","qp1r","qp2r","qp3r","qp4r","qp5r","qv1r","qv2r","qv3r","qv4r","qv5r","qv6r","qv7r","qv8r"], "range": ["#9c4f9f","#e89a35","#b3478f","#35aecb","#78b561","#a054a3","#eaa43a","#a9a9a9","#2b2b2b","#dcc23a","#111111","#000000","#3db5c9","#2fa6c6","#3a3a3a","#9d9d9d","#50c3d6","#a45aa8","#6fae58","#42aac4","#57c0ad","#9b4b9b","#8cc477"]}}}},
      {"data": {"values": [{}]}, "mark": {"type": "text", "fontSize": 3.6, "fontWeight": "bold", "color": "#111", "baseline": "middle"},
       "encoding": {"x": {"datum": 0, "type": "quantitative", "scale": {"domain": [-4, 4], "range": [23.5, 154.5], "nice": false, "zero": false}},
                    "y": {"datum": 0.1775, "type": "quantitative", "scale": {"domain": [0, 0.15], "range": [77, 28], "nice": false, "zero": false}},
                    "text": {"value": "Item Information Curves"}}}
     ]},
    {"width": 1, "height": 13, "data": {"values": []}, "mark": "point"},
    {"width": 165, "height": 110, "view": {"fill": "#ffffff", "stroke": "#9a9a9a", "strokeWidth": 1},
     "layer": [
      {"data": {"values": [{}]}, "mark": {"type": "rect", "fillOpacity": 0, "stroke": "#333", "strokeWidth": 0.5},
       "encoding": {"x": {"datum": -4.104, "type": "quantitative", "scale": {"domain": [-4, 4], "range": [23.5, 154.5], "nice": false, "zero": false}}, "x2": {"datum": 4.104},
                    "y": {"datum": -0.04, "type": "quantitative", "scale": {"domain": [0, 1], "range": [79, 29], "nice": false, "zero": false}}, "y2": {"datum": 1.04}}},
      {"data": {"name": "icc2"}, "mark": {"type": "line", "interpolate": "monotone", "strokeWidth": 0.6, "opacity": 0.9},
       "encoding": {
        "x": {"field": "x", "type": "quantitative", "scale": {"domain": [-4, 4], "range": [23.5, 154.5], "nice": false, "zero": false},
              "axis": {"orient": "bottom", "offset": -29, "values": [-4, -2, 0, 2, 4], "labelExpr": "'' + datum.value", "title": "Ability", "tickSize": 1.8, "labelPadding": 2.5, "labelFontSize": 3.3, "titleFontSize": 3.3, "titlePadding": 4.5, "domainWidth": 0.4, "tickWidth": 0.4}},
        "y": {"field": "p", "type": "quantitative", "scale": {"domain": [0, 1], "range": [79, 29], "nice": false, "zero": false},
              "axis": {"orient": "left", "offset": -21.8, "values": [0, 0.2, 0.4, 0.6, 0.8, 1], "format": ".1f", "title": "Probability", "tickSize": 1.8, "labelPadding": 1.3, "labelAngle": 270, "labelAlign": "center", "labelBaseline": "bottom", "labelFontSize": 3.3, "titleFontSize": 3.3, "titlePadding": 4, "domainWidth": 0.4, "tickWidth": 0.4}},
        "color": {"field": "item", "type": "nominal", "legend": null, "scale": {"domain": ["qgc1r","qgc2r","qgc3r","qgc4r","qgc5r","qgc6r","qgc7r","qgc8r","qgc9r","qgc10r","qp1r","qp2r","qp3r","qp4r","qp5r","qv1r","qv2r","qv3r","qv4r","qv5r","qv6r","qv7r","qv8r"], "range": ["#9c4f9f","#e89a35","#b3478f","#35aecb","#78b561","#a054a3","#eaa43a","#a9a9a9","#2b2b2b","#dcc23a","#111111","#000000","#3db5c9","#2fa6c6","#3a3a3a","#9d9d9d","#50c3d6","#a45aa8","#6fae58","#42aac4","#57c0ad","#9b4b9b","#8cc477"]}}}},
      {"data": {"name": "icc2Lab"}, "mark": {"type": "text", "fontSize": 3},
       "encoding": {
        "x": {"field": "x", "type": "quantitative", "scale": {"domain": [-4, 4], "range": [23.5, 154.5], "nice": false, "zero": false}},
        "y": {"field": "p", "type": "quantitative", "scale": {"domain": [0, 1], "range": [79, 29], "nice": false, "zero": false}},
        "text": {"field": "item"},
        "color": {"field": "item", "type": "nominal", "legend": null, "scale": {"domain": ["qgc1r","qgc2r","qgc3r","qgc4r","qgc5r","qgc6r","qgc7r","qgc8r","qgc9r","qgc10r","qp1r","qp2r","qp3r","qp4r","qp5r","qv1r","qv2r","qv3r","qv4r","qv5r","qv6r","qv7r","qv8r"], "range": ["#9c4f9f","#e89a35","#b3478f","#35aecb","#78b561","#a054a3","#eaa43a","#a9a9a9","#2b2b2b","#dcc23a","#111111","#000000","#3db5c9","#2fa6c6","#3a3a3a","#9d9d9d","#50c3d6","#a45aa8","#6fae58","#42aac4","#57c0ad","#9b4b9b","#8cc477"]}}}},
      {"data": {"values": [{}]}, "mark": {"type": "text", "fontSize": 3.6, "fontWeight": "bold", "color": "#111", "baseline": "middle"},
       "encoding": {"x": {"datum": 0, "type": "quantitative", "scale": {"domain": [-4, 4], "range": [23.5, 154.5], "nice": false, "zero": false}},
                    "y": {"datum": 1.18, "type": "quantitative", "scale": {"domain": [0, 1], "range": [79, 29], "nice": false, "zero": false}},
                    "text": {"value": "Item Characteristic Curves"}}}
     ]}
  ]}
]},
{"width": 480, "height": 47, "view": {"fill": "#000000"}, "data": {"values": []}, "mark": "point"}
]
}
